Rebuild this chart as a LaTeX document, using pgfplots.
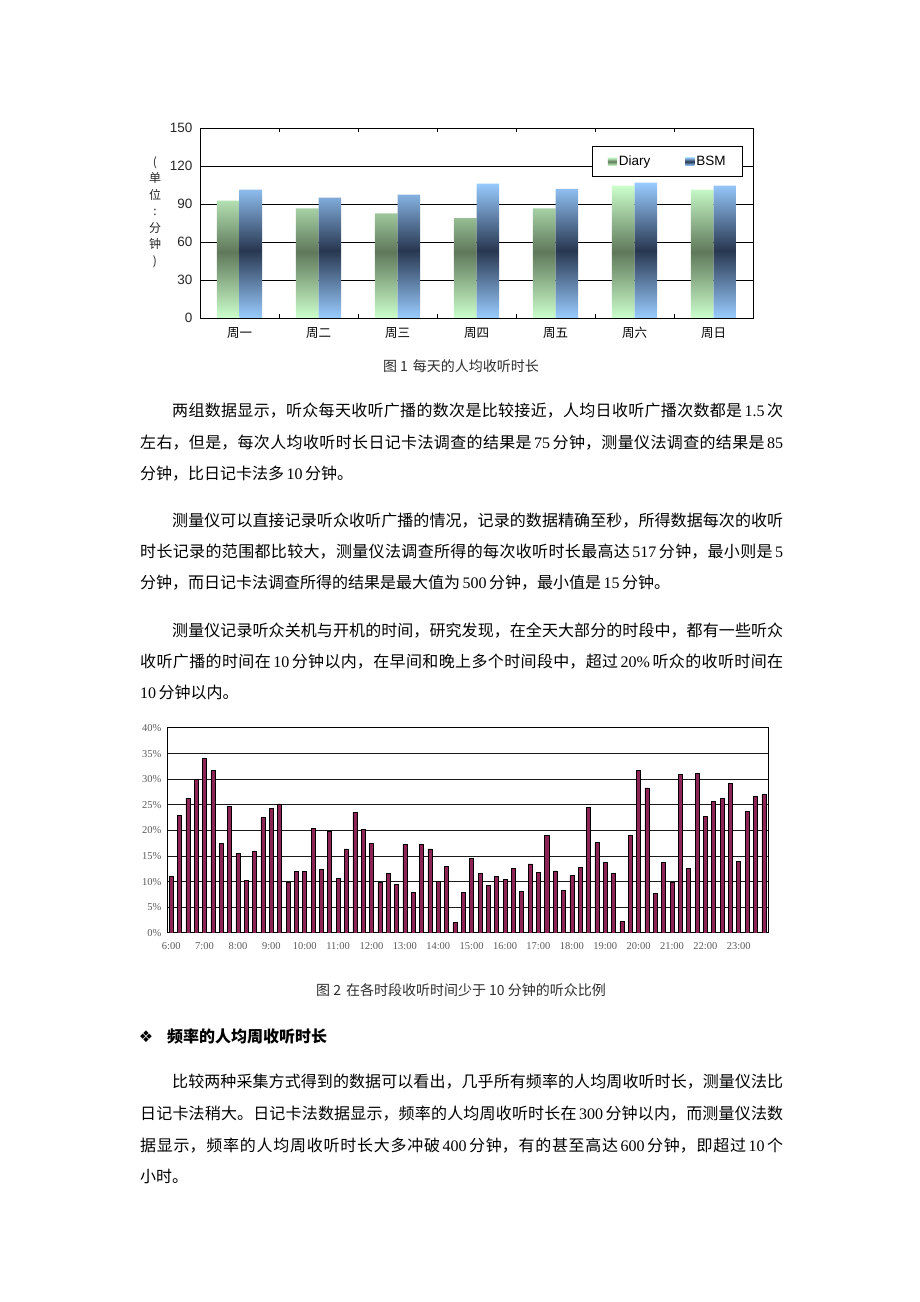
\documentclass[border=0pt]{standalone}
\usepackage{pgfplots}
\pgfplotsset{compat=1.18}
\usepackage{fontspec}
\setmainfont{Liberation Serif}
\newfontfamily\cjk{Noto Sans CJK SC}
\newfontfamily\lat{Liberation Serif}
\newfontfamily\arial{Liberation Sans}
\newfontfamily\dejavu{DejaVu Sans}
\definecolor{dL}{RGB}{204,255,204}
\definecolor{dD}{RGB}{95,120,90}
\definecolor{bL}{RGB}{153,204,255}
\definecolor{bD}{RGB}{40,55,80}
\definecolor{barc}{RGB}{140,36,86}
\definecolor{txt}{RGB}{90,90,90}
\definecolor{cap}{RGB}{45,45,45}
\newcommand\N[1]{\hspace{2.5pt}{\lat #1}\hspace{2.5pt}}
\newcommand\body{\cjk\fontsize{16}{20}\selectfont}
\newcommand\JL[4]{\node[anchor=base west, inner sep=0pt] at (#1,#2) {\parbox[b]{#3pt}{\body\XeTeXlinebreaklocale "zh"\XeTeXlinebreakskip=0pt plus 4pt\relax\parfillskip=0pt\relax\tolerance=10000\relax\noindent #4}};}
\newcommand\TL[3]{\node[anchor=base west, inner sep=0pt, font=\body] at (#1,#2) {#3};}
\begin{document}
\begin{tikzpicture}[x=1pt,y=1pt]
\path[use as bounding box, fill=white] (0,0) rectangle (920,1302);

% ---------- Chart 1 ----------
\begin{axis}[
  at={(200pt,984pt)}, anchor=south west,
  scale only axis, width=553pt, height=190pt,
  xmin=-0.5, xmax=6.5, ymin=0, ymax=150,
  ytick={0,30,60,90,120,150},
  xtick={0,...,6},
  xticklabels={周一,周二,周三,周四,周五,周六,周日},
  major tick length=0pt,
  extra x ticks={0.5,1.5,2.5,3.5,4.5,5.5},
  extra x tick labels={},
  extra x tick style={major tick length=4pt, tick align=inside, tick style={black, line width=0.8pt}},
  ymajorgrids, grid style={black, line width=0.8pt},
  axis line style={black, line width=0.9pt},
  /pgf/number format/assume math mode=true,
  yticklabel style={font=\arial\fontsize{13.5}{15}\selectfont, text=black!85, xshift=-4pt},
  xticklabel style={font=\cjk\fontsize{12.5}{14}\selectfont, yshift=-6pt},
  legend columns=2,
  legend style={at={(0.982,0.905)}, anchor=north east, draw=black, line width=0.8pt,
    fill=white, font=\arial\fontsize{13.5}{15}\selectfont, inner xsep=15pt, inner ysep=7.5pt,
    /tikz/every even column/.append style={column sep=33pt}},
]
\addplot[ybar, bar width=0.285, bar shift=-0.1425, draw=none,
  top color=dL, bottom color=dL, middle color=dD,
  legend image code/.code={\shade[top color=dL,bottom color=dL,middle color=dD] (0pt,-4pt) rectangle (9pt,4pt);}]
  coordinates {(0,92.7) (1,86.6) (2,82.5) (3,78.8) (4,86.6) (5,104.5) (6,101.3)};
\addlegendentry{Diary}
\addplot[ybar, bar width=0.285, bar shift=0.1425, draw=none,
  top color=bL, bottom color=bL, middle color=bD,
  legend image code/.code={\shade[top color=bL,bottom color=bL,middle color=bD] (0pt,-4pt) rectangle (9pt,4pt);}]
  coordinates {(0,101.3) (1,95) (2,97.4) (3,106) (4,102) (5,106.8) (6,104.5)};
\addlegendentry{BSM}
\end{axis}
\node[align=center, inner sep=0pt, font=\cjk\fontsize{12}{16.5}\selectfont, text=black!85] at (155,1090) {(\\单\\位\\:\\分\\钟\\)};
\node[anchor=base, font=\cjk\fontsize{14}{16}\selectfont, text=cap] at (461,930) {图 1\hspace{5pt}每天的人均收听时长};

% ---------- Body text ----------
\JL{172}{885}{611}{两组数据显示，听众每天收听广播的数次是比较接近，人均日收听广播次数都是\N{1.5}次}
\JL{140}{853}{643}{左右，但是，每次人均收听时长日记卡法调查的结果是\N{75}分钟，测量仪法调查的结果是\N{85}}
\TL{140}{822}{分钟，比日记卡法多\N{10}分钟。}
\JL{172}{775}{611}{测量仪可以直接记录听众收听广播的情况，记录的数据精确至秒，所得数据每次的收听}
\JL{140}{744}{643}{时长记录的范围都比较大，测量仪法调查所得的每次收听时长最高达\N{517}分钟，最小则是\N{5}}
\TL{140}{713}{分钟，而日记卡法调查所得的结果是最大值为\N{500}分钟，最小值是\N{15}分钟。}
\JL{172}{665}{611}{测量仪记录听众关机与开机的时间，研究发现，在全天大部分的时段中，都有一些听众}
\JL{140}{634}{643}{收听广播的时间在\N{10}分钟以内，在早间和晚上多个时间段中，超过\N{20\%}听众的收听时间在}
\TL{140}{603}{{\lat 10}\hspace{2.5pt}分钟以内。}

% ---------- Chart 2 ----------
\begin{axis}[
  at={(167pt,369pt)}, anchor=south west,
  scale only axis, width=601pt, height=205pt,
  xmin=0.5, xmax=72.5, ymin=0, ymax=40,
  ytick={0,5,10,15,20,25,30,35,40},
  yticklabels={0\%,5\%,10\%,15\%,20\%,25\%,30\%,35\%,40\%},
  xtick={1,5,9,13,17,21,25,29,33,37,41,45,49,53,57,61,65,69},
  xticklabels={6:00,7:00,8:00,9:00,10:00,11:00,12:00,13:00,14:00,15:00,16:00,17:00,18:00,19:00,20:00,21:00,22:00,23:00},
  major tick length=0pt,
  ymajorgrids, grid style={black!90, line width=1pt},
  axis line style={black, line width=1pt},
  yticklabel style={font=\lat\fontsize{10.5}{12}\selectfont, text=txt, xshift=-2pt},
  xticklabel style={font=\lat\fontsize{10.5}{12}\selectfont, text=txt, yshift=-6pt},
]
\addplot[ybar, bar width=0.48, fill=barc, draw=black, line width=0.6pt] coordinates {
(1,11) (2,23) (3,26.3) (4,30) (5,34) (6,31.7) (7,17.5) (8,24.7)
(9,15.5) (10,10.3) (11,16) (12,22.5) (13,24.3) (14,25.2) (15,9.8) (16,12)
(17,12) (18,20.4) (19,12.4) (20,19.8) (21,10.6) (22,16.4) (23,23.6) (24,20.2)
(25,17.5) (26,9.8) (27,11.7) (28,9.5) (29,17.3) (30,7.9) (31,17.3) (32,16.4)
(33,10.1) (34,13) (35,2) (36,7.9) (37,14.6) (38,11.7) (39,9.3) (40,11)
(41,10.4) (42,12.6) (43,8.1) (44,13.5) (45,11.9) (46,19.1) (47,12.1) (48,8.3)
(49,11.2) (50,12.8) (51,24.5) (52,17.7) (53,13.7) (54,11.7) (55,2.2) (56,19.1)
(57,31.7) (58,28.3) (59,7.7) (60,13.7) (61,9.8) (62,31) (63,12.6) (64,31.2)
(65,22.7) (66,25.6) (67,26.3) (68,29.2) (69,13.9) (70,23.8) (71,26.6) (72,27)
};
\end{axis}
\node[anchor=base, font=\cjk\fontsize{14}{16}\selectfont, text=cap] at (461,306) {图 2\hspace{5pt}在各时段收听时间少于 10 分钟的听众比例};

% ---------- Heading and last paragraph ----------
\node[anchor=base, inner sep=0pt, font=\dejavu\fontsize{16}{18}\selectfont] at (146,259) {❖};
\node[anchor=base west, inner sep=0pt, font=\body\bfseries] at (167,259) {频率的人均周收听时长};
\JL{172}{214}{611}{比较两种采集方式得到的数据可以看出，几乎所有频率的人均周收听时长，测量仪法比}
\JL{140}{182}{643}{日记卡法稍大。日记卡法数据显示，频率的人均周收听时长在\N{300}分钟以内，而测量仪法数}
\JL{140}{150}{643}{据显示，频率的人均周收听时长大多冲破\N{400}分钟，有的甚至高达\N{600}分钟，即超过\N{10}个}
\TL{140}{119}{小时。}
\end{tikzpicture}
\end{document}
